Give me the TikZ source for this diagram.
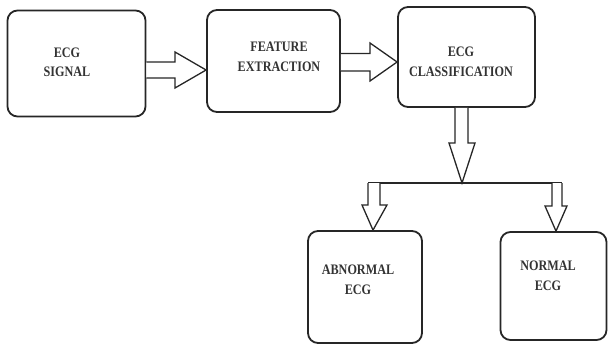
\documentclass[tikz,border=0pt]{standalone}
\usepackage{fontspec}
\setmainfont{Liberation Serif}
\newfontfamily\lblfont{Liberation Serif}[FakeStretch=0.84]
\usetikzlibrary{calc}
\begin{document}
\begin{tikzpicture}[x=1pt,y=-1pt,
  box/.style={draw=black!85,line width=1.8pt,rounded corners=10pt,inner sep=0pt},
  lbl/.style={font=\lblfont\bfseries\fontsize{14.5}{19.5}\selectfont,align=center,inner sep=0pt,text=black!80},
  blk/.style={draw=black!85,line width=1.3pt,fill=white,line join=miter}]
\useasboundingbox (0,0) rectangle (608,345);
% boxes
\node[box,minimum width=138pt,minimum height=106pt] (sig) at (76.5,63.5) {};
\node[box,minimum width=133pt,minimum height=102pt] (fe) at (273.5,61) {};
\node[box,minimum width=137pt,minimum height=100pt] (cls) at (466.5,57) {};
\node[box,minimum width=114pt,minimum height=112pt] (ab) at (365,287) {};
\node[box,minimum width=106pt,minimum height=108pt] (no) at (553.5,286) {};
% texts
\node[lbl] (tsig) at (67,62.5) {ECG\\SIGNAL};
\node[lbl] (tfe) at (279,57) {FEATURE\\EXTRACTION};
\node[lbl] (tcls) at (461,62) {ECG\\CLASSIFICATION};
\node[lbl] (tab) at (358,280) {ABNORMAL\\ECG};
\node[lbl] (tno) at (548,276) {NORMAL\\ECG};
% block arrows
\draw[blk] (sig.east |- 0,62) -- (175,62) -- (175,52) -- (fe.west |- 0,70) -- (175,88) -- (175,78) -- (sig.east |- 0,78);
\draw[blk] (fe.east |- 0,53.5) -- (370,53.5) -- (370,43) -- (cls.west |- 0,62) -- (370,81) -- (370,71) -- (fe.east |- 0,71);
\coordinate (j) at (462,183);
\draw[blk] (455,0 |- cls.south) -- (455,143) -- (449,143) -- (j) -- (475,143) -- (468,143) -- (468,0 |- cls.south);
\coordinate (jl) at (368,183);
\coordinate (jr) at (562,183);
\draw[draw=black!85,line width=1.8pt] (jl) -- (jr);
\draw[blk] (jl) -- (368,205) -- (362,205) -- (373,0 |- ab.north) -- (387,205) -- (380,205) -- (380,183);
\draw[blk] (552,183) -- (552,206) -- (545,206) -- (556,0 |- no.north) -- (567,206) -- (562,206) -- (jr);
\end{tikzpicture}
\end{document}
